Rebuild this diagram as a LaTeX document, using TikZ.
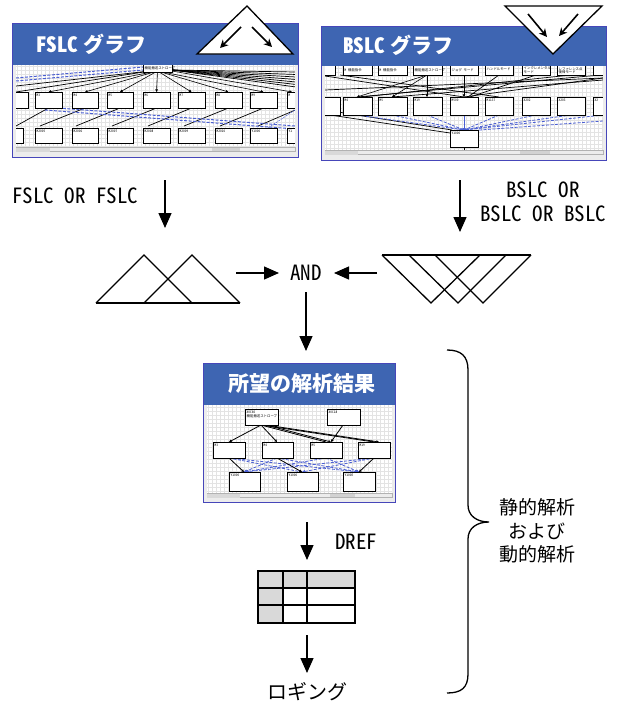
\documentclass[tikz,border=0pt]{standalone}
\usepackage{fontspec}
\usepackage{graphicx}
\setmainfont{Noto Sans CJK JP}
\newfontfamily\hw[RawFeature=+hwid]{Noto Sans CJK JP}
\usetikzlibrary{arrows.meta}
\definecolor{tbar}{RGB}{62,101,178}
\definecolor{dblue}{RGB}{75,95,210}
\definecolor{cellg}{RGB}{217,217,217}
\definecolor{chromeg}{RGB}{236,236,236}
\tikzset{
  arr/.style={line width=1.3pt,-{Triangle[length=15pt,width=13pt]}},
  tarr/.style={line width=1.6pt,-{Stealth[length=8pt,width=8pt,inset=2.5pt]}},
  tri/.style={line width=1.3pt,line join=miter},
  mbox/.style={draw=black,line width=0.7pt,fill=white},
  mlbl/.style={font=\hw\fontsize{3.4}{3.8}\selectfont,inner sep=0pt,anchor=north west,align=left},
  gline/.style={draw=gray!22,line width=0.25pt},
  cl/.style={line width=0.7pt},
  conn/.style={line width=0.6pt,-{Triangle[length=2.6pt,width=2.6pt]}},
  bdash/.style={dblue,line width=1pt,dash pattern=on 3pt off 1.5pt},
  bconn/.style={dblue,line width=0.8pt,dash pattern=on 3pt off 1.5pt,-{Triangle[length=3pt,width=3pt]}},
  ttl/.style={text=white,font=\fontsize{21}{21}\selectfont\bfseries,inner sep=0pt},
  lbl/.style={font=\hw\fontsize{21}{24}\selectfont,inner sep=0pt},
  jlbl/.style={font=\fontsize{19}{23.5}\selectfont,inner sep=0pt},
}
% name, x1, y1, x2, y2, label  (label placed near the top-left corner)
\newcommand{\mbx}[6]{%
  \filldraw[mbox] (#2,#3) rectangle (#4,#5);
  \node[mlbl] (#1) at (#2+1.5,#3+1.5) {#6};}
% same, for boxes partly hidden under the title bar (label at given y)
\newcommand{\mbxt}[7]{%
  \filldraw[mbox] (#2,#3) rectangle (#4,#5);
  \node[mlbl] (#1) at (#2+1.5,#7) {#6};}
\begin{document}
\begin{tikzpicture}[x=1pt,y=-1pt]
\useasboundingbox (0,0) rectangle (616,704);

% ================= FSLC screenshot =================
\fill[white] (12,23) rectangle (298,157);
\begin{scope}
  \clip (16,65) rectangle (295,147);
  \foreach \g in {17,21,...,295} \draw[gline] (\g,65) -- (\g,147);
  \foreach \g in {66,70,...,146} \draw[gline] (16,\g) -- (295,\g);
  \foreach \x in {48.5,85,120,156.5,191.5,228.5,263.5} \draw[conn] (157.5,71) -- (\x,92);
  \draw[cl] (150,71) -- (16,86);
  \draw[cl] (150,71) -- (16,92);
  \foreach \y in {72,74.5,77,79.5,82,84.5,87} \draw[cl] (172,70) -- (296,\y);
  \draw[conn] (172,71) -- (292,92);
  \draw[bdash] (16,78) -- (143,67);
  \draw[bdash] (16,81) -- (143,70);
  \foreach \a/\b in {48.5/16, 85/40, 120/76, 156.5/112, 191.5/148, 228.5/184, 263.5/220, 300/258}
    \draw[cl] (\a,108) -- (\b,126);
  \draw[bdash] (45,107) -- (295,126);
  \draw[bdash] (45,110) -- (295,129);
  \draw[dblue,line width=0.5pt,dash pattern=on 2pt off 1pt] (295,110) -- (268,128);
  \mbxt{ft}{143}{60}{172}{72}{機能搬送ストローブ}{66}
  \mbx{fm0}{10}{92}{28}{108}{}
  \mbx{fm1}{35}{92}{62}{108}{M3}
  \mbx{fm2}{72}{92}{98}{108}{M4}
  \mbx{fm3}{107}{92}{133}{108}{M5}
  \mbx{fm4}{143}{92}{170}{108}{M6}
  \mbx{fm5}{178}{92}{205}{108}{M7}
  \mbx{fm6}{215}{92}{242}{108}{M8}
  \mbx{fm7}{250}{92}{277}{108}{M9}
  \mbx{fm8}{287}{92}{310}{108}{M}
  \mbx{fb0}{10}{128}{23}{143}{}
  \mbx{fb1}{35}{128}{62}{143}{M2005}
  \mbx{fb2}{72}{128}{98}{143}{M2006}
  \mbx{fb3}{107}{128}{133}{143}{M2007}
  \mbx{fb4}{143}{128}{170}{143}{M2008}
  \mbx{fb5}{178}{128}{205}{143}{M2009}
  \mbx{fb6}{215}{128}{242}{143}{M2010}
  \mbx{fb7}{250}{128}{277}{143}{Y1000}
  \mbx{fb8}{287}{128}{310}{143}{Y1}
\end{scope}
\fill[chromeg] (12,65) rectangle (16,147);
\fill[chromeg] (295,65) rectangle (298,147);
\fill[chromeg] (12,147) rectangle (298,157);
\draw[gray!60,line width=0.3pt] (16,147.5) rectangle (295,151.5);
\fill[gray!30] (16,147.5) rectangle (50,151.5);
\fill[gray!35] (212,148) rectangle (240,151);
\fill[tbar] (12,23) rectangle (298,65);
\draw[blue!45!gray,line width=0.6pt] (12,23) rectangle (298,157);
\node[ttl,anchor=west] (ftitle) at (36,44) {{\hw FSLC} グラフ};
% triangle with arrows
\filldraw[fill=white,tri] (247,6) -- (293,54) -- (197,54) -- cycle;
\coordinate (fa1) at (241,27); \coordinate (fa2) at (220,48);
\coordinate (fa3) at (252,27); \coordinate (fa4) at (272,47);
\draw[tarr] (fa1) -- (fa2);
\draw[tarr] (fa3) -- (fa4);

% ================= BSLC screenshot =================
\fill[white] (321,26) rectangle (606,160);
\begin{scope}
  \clip (325,66) rectangle (603,150);
  \foreach \g in {326,330,...,603} \draw[gline] (\g,66) -- (\g,150);
  \foreach \g in {68,72,...,150} \draw[gline] (325,\g) -- (603,\g);
  % crossing lines top row -> middle row
  \draw[cl] (325,76) -- (464,97);
  \draw[cl] (340,75) -- (499,97);
  \draw[conn] (427,75) -- (357,97);
  \draw[conn] (427,75) -- (392,97);
  \draw[conn] (427,75) -- (427,97);
  \draw[conn] (464,75) -- (464,97);
  \draw[cl] (499,75) -- (468,97);
  \draw[cl] (536,75) -- (470,97);
  \draw[cl] (600,75) -- (357,97);
  \draw[cl] (603,80) -- (392,97);
  \draw[cl] (603,78) -- (464,97);
  \draw[cl] (571,75) -- (362,97);
  \draw[cl] (325,90) -- (603,78);
  % lines to bottom box
  \draw[cl] (330,115) -- (450,133);
  \draw[cl] (325,110) -- (452,130);
  \foreach \x in {357,392,427,499,536,571,603}
    \draw[bdash,line width=0.8pt] (\x,115) -- (464,130);
  \draw[bdash,line width=0.8pt] (603,121) -- (466,131);
  \draw[dblue,line width=0.8pt] (464,115) -- (464,130);
  \fill[dblue] (464,130) ellipse (4pt and 2pt);
  \draw[cl] (464,147) -- (464,150);
  \mbxt{bt0}{315}{62}{335}{75}{}{68}
  \mbxt{bt1}{343}{62}{372}{75}{M 機能指令}{68}
  \mbxt{bt2}{378}{62}{407}{75}{M 機能指令}{68}
  \mbxt{bt3}{413}{62}{442}{75}{機能搬送ストローブ}{68}
  \mbxt{bt4}{450}{62}{478}{75}{ジョグ モード}{68}
  \mbxt{bt5}{485}{62}{513}{75}{ハンドルモード}{68}
  \mbxt{bt6}{522}{62}{550}{75}{インクレメンタル\\モード}{67}
  \mbxt{bt7}{557}{62}{585}{75}{レファレンス点\\復帰モード}{67}
  \mbxt{bt8}{593}{62}{615}{75}{}{68}
  \mbx{bm0}{315}{97}{340}{115}{}
  \mbx{bm1}{343}{97}{372}{115}{M4}
  \mbx{bm2}{378}{97}{407}{115}{M5}
  \mbx{bm3}{413}{97}{442}{115}{M19}
  \mbx{bm4}{450}{97}{478}{115}{M500}
  \mbx{bm5}{485}{97}{513}{115}{M1137}
  \mbx{bm6}{522}{97}{550}{115}{X202}
  \mbx{bm7}{557}{97}{585}{115}{X203}
  \mbx{bm8}{593}{97}{615}{115}{X2}
  \mbx{bb}{450}{130}{478}{147}{Y1000}
\end{scope}
\fill[chromeg] (321,66) rectangle (325,150);
\fill[chromeg] (603,66) rectangle (606,150);
\fill[chromeg] (321,150) rectangle (606,160);
\draw[gray!60,line width=0.3pt] (325,150.5) rectangle (603,154.5);
\fill[gray!30] (325,150.5) rectangle (358,154.5);
\fill[gray!35] (520,151) rectangle (550,154);
\fill[tbar] (321,26) rectangle (606,66);
\draw[blue!45!gray,line width=0.6pt] (321,26) rectangle (606,160);
\node[ttl,anchor=west] (btitle) at (343,45) {{\hw BSLC} グラフ};
\filldraw[fill=white,tri] (505,6) -- (602,6) -- (553,54) -- cycle;
\coordinate (ba1) at (528,14); \coordinate (ba2) at (547,37);
\coordinate (ba3) at (578,14); \coordinate (ba4) at (559,36);
\draw[tarr] (ba1) -- (ba2);
\draw[tarr] (ba3) -- (ba4);

% ================= arrows and texts, upper part =================
\coordinate (fs1) at (165,180); \coordinate (fs2) at (165,228);
\draw[arr] (fs1) -- (fs2);
\coordinate (bs1) at (460,180); \coordinate (bs2) at (460,232);
\draw[arr] (bs1) -- (bs2);
\node[lbl,anchor=west] (ftext) at (12,196) {FSLC OR FSLC};
\node[lbl,align=center] (btext) at (543,202) {BSLC OR\\BSLC OR BSLC};

% double triangle (left)
\draw[tri] (96,303) -- (240,303);
\draw[tri] (96,303) -- (144,255) -- (192,303);
\draw[tri] (192,303) -- (144,303);
\draw[tri] (144,303) -- (192,255) -- (240,303);
% triple inverted triangle (right)
\draw[tri] (382,255) -- (531,255);
\draw[tri] (382,255) -- (431,303) -- (480,255);
\draw[tri] (409,255) -- (458,303) -- (506,255);
\draw[tri] (435,255) -- (483,303) -- (531,255);

\node[lbl] (and) at (306,273) {AND};
\coordinate (la1) at (236,273); \coordinate (la2) at (279,273);
\draw[arr] (la1) -- (la2);
\coordinate (ra1) at (377,273); \coordinate (ra2) at (334,273);
\draw[arr] (ra1) -- (ra2);
\coordinate (ad1) at (306,292); \coordinate (ad2) at (306,351);
\draw[arr] (ad1) -- (ad2);

% ================= result screenshot =================
\fill[white] (203,363) rectangle (395,502);
\begin{scope}
  \clip (207,405) rectangle (392,493);
  \foreach \g in {208,212,...,392} \draw[gline] (\g,405) -- (\g,493);
  \foreach \g in {407,411,...,493} \draw[gline] (207,\g) -- (392,\g);
  \coordinate (x60) at (261,425); \coordinate (x60b) at (266,425);
  \coordinate (x18) at (343,425);
  \coordinate (m3t) at (229,442); \coordinate (m4t) at (277,442);
  \coordinate (m5t) at (326,442); \coordinate (m19t) at (374,442);
  \coordinate (m5t2) at (331,442); \coordinate (m19t2) at (379,442);
  \coordinate (m3b) at (229,458); \coordinate (m4b) at (277,458);
  \coordinate (m5b) at (326,458); \coordinate (m19b) at (374,458);
  \coordinate (ya) at (244,472); \coordinate (yb) at (302,472); \coordinate (yc) at (359,472);
  \draw[conn,line width=0.8pt] (x60) -- (m3t);
  \draw[conn,line width=0.8pt] (x60) -- (m4t);
  \draw[conn,line width=0.8pt] (x60) -- (m5t);
  \draw[conn,line width=0.8pt] (x60b) -- (m5t2);
  \draw[conn,line width=0.8pt] (x60) -- (m19t);
  \draw[conn,line width=0.8pt] (x60b) -- (m19t2);
  \draw[conn,line width=0.8pt] (x18) -- (m5t2);
  \draw[bconn] (m3b) -- (yb);
  \draw[bconn] (m3b) -- (yc);
  \draw[bconn] (m4b) -- (ya);
  \draw[bconn] (m4b) -- (yc);
  \draw[bconn] (m5b) -- (ya);
  \draw[bconn] (m5b) -- (yc);
  \draw[bconn] (m19b) -- (ya);
  \draw[bconn] (m19b) -- (yb);
  \draw[conn,line width=0.8pt] (m3b) -- (ya);
  \draw[conn,line width=0.8pt] (m4b) -- (yb);
  \draw[conn,line width=0.8pt] (m19b) -- (yc);
  \mbx{rx60}{245}{409}{278}{425}{X0C60\\機能搬送ストローブ}
  \mbx{rx18}{327}{409}{360}{425}{X0C18}
  \mbx{rm3}{213}{442}{245}{458}{M3}
  \mbx{rm4}{262}{442}{293}{458}{M4}
  \mbx{rm5}{310}{442}{342}{458}{M5}
  \mbx{rm19}{358}{442}{390}{458}{M19}
  \mbx{rya}{229}{472}{260}{491}{Y1000}
  \mbx{ryb}{287}{472}{318}{491}{Y1000}
  \mbx{ryc}{343}{472}{375}{491}{Y100E}
\end{scope}
\fill[chromeg] (203,405) rectangle (207,493);
\fill[chromeg] (392,405) rectangle (395,493);
\fill[chromeg] (203,493) rectangle (395,502);
\draw[gray!60,line width=0.3pt] (207,493.5) rectangle (392,497.5);
\fill[gray!30] (207,493.5) rectangle (240,497.5);
\fill[gray!35] (330,494) rectangle (355,497);
\fill[tbar] (203,363) rectangle (395,405);
\draw[blue!45!gray,line width=0.6pt] (203,363) rectangle (395,502);
\node[ttl] (rtitle) at (302,384) {所望の解析結果};

% ================= DREF, table, logging =================
\coordinate (dr1) at (307,522); \coordinate (dr2) at (307,560);
\draw[arr] (dr1) -- (dr2);
\node[lbl,anchor=west] (dref) at (335,542) {DREF};

\fill[cellg] (258,571) rectangle (355,588);
\fill[cellg] (258,588) rectangle (283,623);
\draw[line width=1.4pt] (258,571) rectangle (355,623);
\draw[line width=1.4pt] (258,588) -- (355,588);
\draw[line width=1.4pt] (258,605) -- (355,605);
\draw[line width=1.4pt] (283,571) -- (283,623);
\draw[line width=1.4pt] (307,571) -- (307,623);

\coordinate (lg1) at (307,635); \coordinate (lg2) at (307,673);
\draw[arr] (lg1) -- (lg2);
\node[jlbl,font=\fontsize{20}{24}\selectfont] (logging) at (307,692) {ロギング};

% ================= brace =================
\draw[line width=1.3pt] (447,350) .. controls (461,350) and (468,356) .. (468,370)
  -- (468,505) .. controls (468,516) and (477,522) .. (489,522)
  .. controls (477,522) and (468,528) .. (468,539)
  -- (468,674) .. controls (468,688) and (461,693) .. (447,693);
\node[jlbl,align=center] (brtext) at (537,531) {静的解析\\および\\動的解析};
\end{tikzpicture}
\end{document}
